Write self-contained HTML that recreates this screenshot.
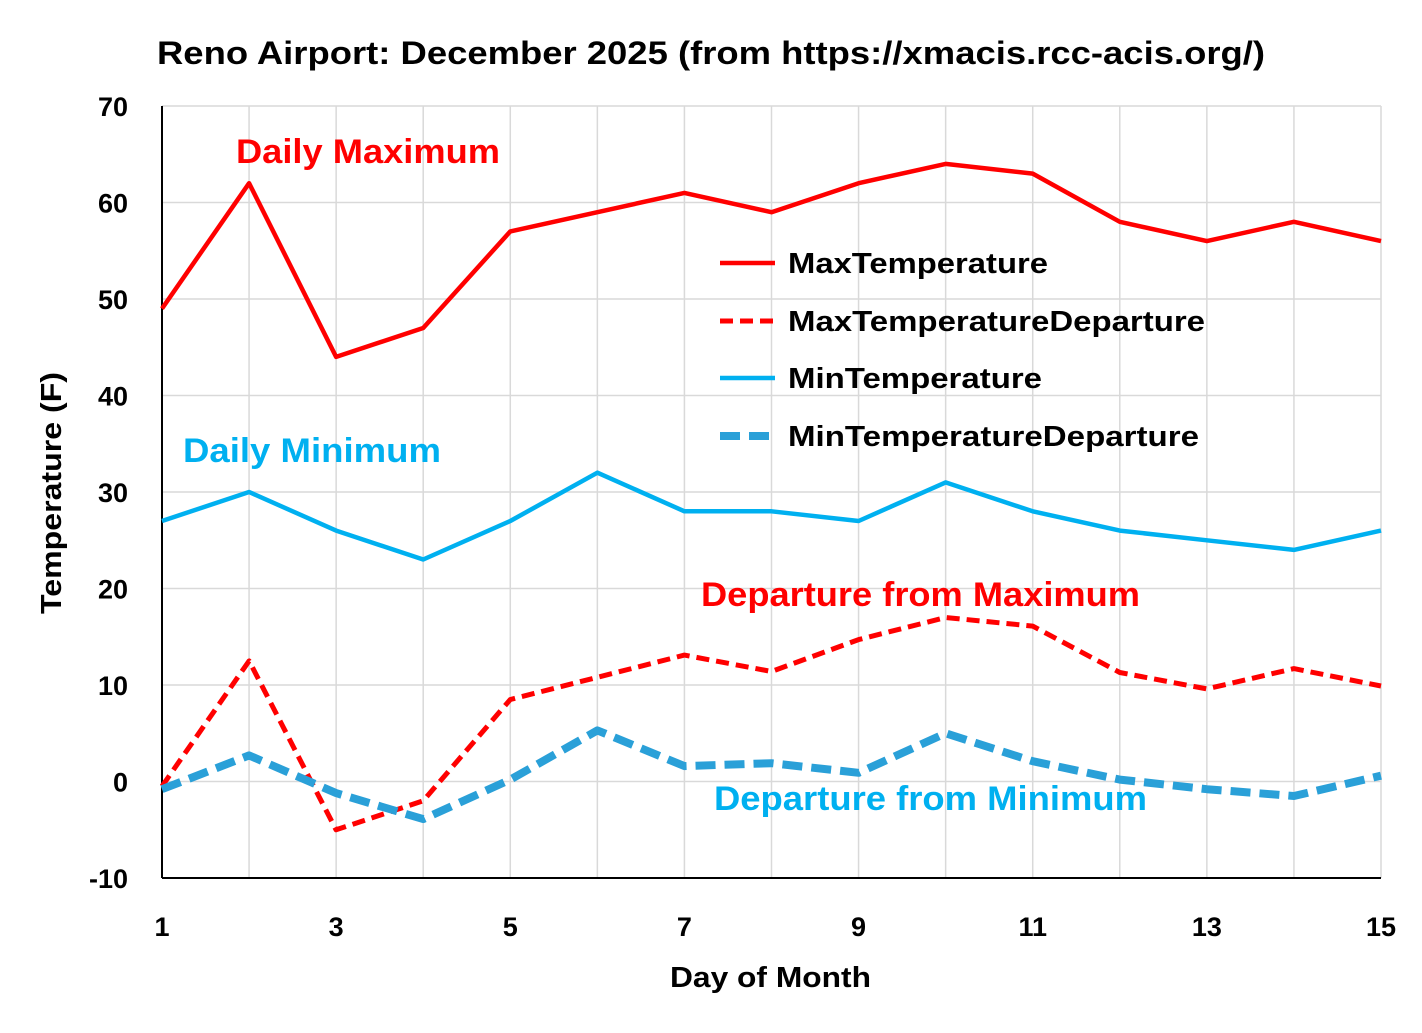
<!DOCTYPE html>
<html><head><meta charset="utf-8"><style>
html,body{margin:0;padding:0;background:#fff;}
svg{display:block;font-family:"Liberation Sans",sans-serif;font-weight:bold;}
</style></head><body>
<svg id="s" width="1422" height="1033" viewBox="0 0 1422 1033" xmlns="http://www.w3.org/2000/svg">
<rect width="1422" height="1033" fill="#fff"/>
<text x="157" y="64" font-size="32" fill="#000" textLength="1108" lengthAdjust="spacingAndGlyphs">Reno Airport: December 2025 (from https://xmacis.rcc-acis.org/)</text>
<g id="grid" stroke="#d9d9d9" stroke-width="1.5"></g>
<line x1="162" y1="106" x2="162" y2="878" stroke="#000" stroke-width="2"/>
<line x1="162" y1="878" x2="1381" y2="878" stroke="#000" stroke-width="2"/>
<g id="yt" font-size="27" text-anchor="end" fill="#000"></g>
<g id="xt" font-size="27" text-anchor="middle" fill="#000"></g>
<text x="670" y="987" font-size="29" textLength="201" lengthAdjust="spacingAndGlyphs">Day of Month</text>
<text transform="translate(61,614) rotate(-90)" font-size="29" textLength="242" lengthAdjust="spacingAndGlyphs">Temperature (F)</text>
<g id="series" fill="none" stroke-linejoin="round"></g>
<text x="236" y="163" font-size="34" fill="#ff0000" textLength="264" lengthAdjust="spacingAndGlyphs">Daily Maximum</text>
<text x="183" y="462" font-size="34" fill="#00b0f0" textLength="258" lengthAdjust="spacingAndGlyphs">Daily Minimum</text>
<text x="701" y="606" font-size="34" fill="#ff0000" textLength="439" lengthAdjust="spacingAndGlyphs">Departure from Maximum</text>
<text x="714" y="810" font-size="34" fill="#00b0f0" textLength="433" lengthAdjust="spacingAndGlyphs">Departure from Minimum</text>
<g font-size="29" fill="#000">
<line x1="720" y1="263" x2="775" y2="263" stroke="#ff0000" stroke-width="4.5"/>
<text x="788" y="273" textLength="260" lengthAdjust="spacingAndGlyphs">MaxTemperature</text>
<line x1="720" y1="321" x2="775" y2="321" stroke="#ff0000" stroke-width="5" stroke-dasharray="13 7"/>
<text x="788" y="331" textLength="417" lengthAdjust="spacingAndGlyphs">MaxTemperatureDeparture</text>
<line x1="720" y1="378" x2="775" y2="378" stroke="#00b0f0" stroke-width="4.5"/>
<text x="788" y="388" textLength="254" lengthAdjust="spacingAndGlyphs">MinTemperature</text>
<line x1="720" y1="436" x2="775" y2="436" stroke="#2aa0d8" stroke-width="8" stroke-dasharray="20 9"/>
<text x="788" y="446" textLength="411" lengthAdjust="spacingAndGlyphs">MinTemperatureDeparture</text>
</g>
</svg>
<script>
var NS="http://www.w3.org/2000/svg";
function X(d){return 162+(d-1)*(1219/14);}
function Y(v){return 106+(70-v)*9.65;}
function el(p,t,a,txt){var e=document.createElementNS(NS,t);for(var k in a)e.setAttribute(k,a[k]);if(txt!=null)e.textContent=txt;document.getElementById(p).appendChild(e);}
for(var d=2;d<=15;d++)el("grid","line",{x1:X(d),y1:106,x2:X(d),y2:878});
for(var v=0;v<=70;v+=10)el("grid","line",{x1:162,y1:Y(v),x2:1381,y2:Y(v)});
for(var v=-10;v<=70;v+=10)el("yt","text",{x:128,y:Y(v)+10},String(v));
for(var d=1;d<=15;d+=2)el("xt","text",{x:X(d),y:936},String(d));
function pts(a){return a.map(function(v,i){return X(i+1).toFixed(1)+","+Y(v).toFixed(1)}).join(" ");}
var mx=[49,62,44,47,57,59,61,59,62,64,63,58,56,58,56];
var mn=[27,30,26,23,27,32,28,28,27,31,28,26,25,24,26];
var md=[-0.5,12.5,-5,-2,8.5,10.8,13.1,11.4,14.7,17,16.1,11.3,9.6,11.7,9.9];
var nd=[-0.8,2.7,-1.2,-3.9,0.2,5.3,1.6,1.9,0.9,5,2.1,0.2,-0.8,-1.5,0.6];
el("series","polyline",{points:pts(mx),stroke:"#ff0000","stroke-width":4.5});
el("series","polyline",{points:pts(mn),stroke:"#00b0f0","stroke-width":4.5});
el("series","polyline",{points:pts(md),stroke:"#ff0000","stroke-width":5,"stroke-dasharray":"13 7"});
el("series","polyline",{points:pts(nd),stroke:"#2aa0d8","stroke-width":8,"stroke-dasharray":"20 9"});
</script>
</body></html>
